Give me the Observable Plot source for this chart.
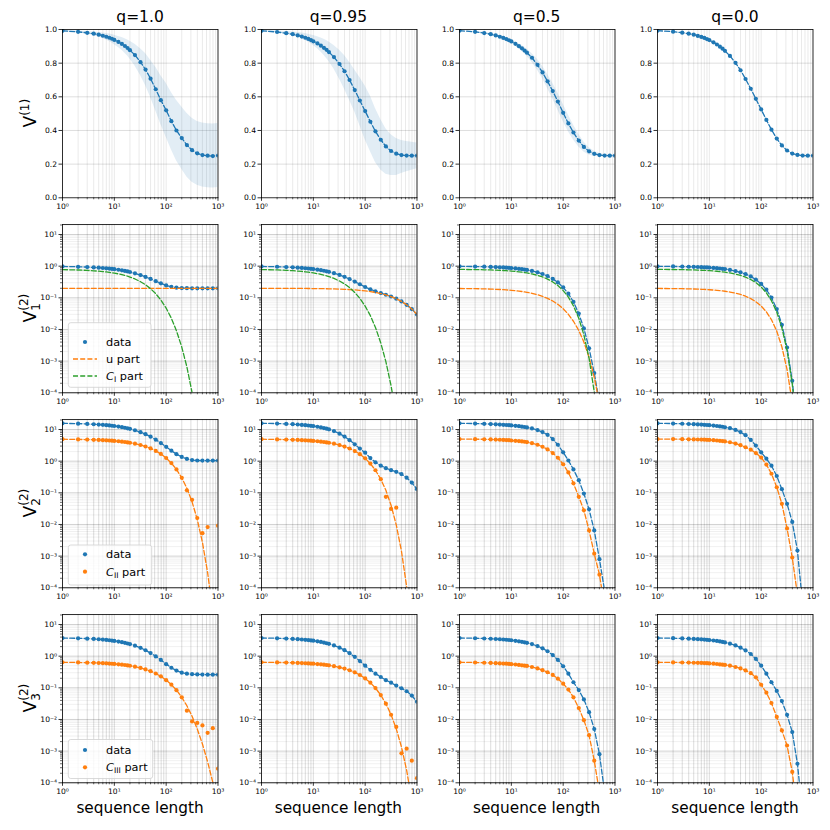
<!DOCTYPE html>
<html><head><meta charset="utf-8">
<script src="https://cdn.jsdelivr.net/npm/d3@7"></script>
<script src="https://cdn.jsdelivr.net/npm/@observablehq/plot@0.6"></script>
<style>
body{margin:0;background:#fff;}
#fig{position:relative;width:830px;height:830px;font-family:"DejaVu Sans",sans-serif;overflow:hidden;}
#fig svg{position:absolute;overflow:visible;}
</style></head><body><div id="fig"></div>
<script>
// ---------- data ----------
const m = [1,2,3,4,5,6,7,8,9,10,12,14,16,18,20,25,32,40,50,63,79,100,126,158,200,251,316,398,501,631,794,1000];
const titles = ["q=1.0","q=0.95","q=0.5","q=0.0"];

// Row 1: V^(1) mean and band
const v1_q10 = [.992,.986,.980,.975,.969,.963,.957,.951,.945,.938,.926,.914,.902,.890,.877,.848,.806,.762,.708,.645,.580,.520,.455,.400,.355,.313,.283,.264,.254,.250,.248,.251];
const v1_q10_hi = [.995,.991,.988,.985,.982,.979,.976,.973,.970,.966,.959,.952,.945,.938,.930,.913,.886,.857,.818,.775,.725,.680,.625,.580,.540,.503,.473,.454,.444,.440,.438,.441];
const v1_q10_lo = [.989,.981,.972,.965,.956,.947,.938,.929,.920,.910,.893,.876,.859,.842,.824,.783,.726,.667,.598,.515,.435,.360,.285,.220,.170,.123,.093,.074,.064,.060,.058,.061];
const v1_q095 = [.992,.985,.978,.972,.965,.958,.951,.944,.937,.930,.917,.904,.891,.879,.866,.836,.795,.752,.700,.640,.578,.515,.452,.395,.345,.305,.278,.262,.254,.251,.250,.250];
const v1_q095_hi = [.995,.991,.988,.985,.982,.979,.976,.972,.968,.964,.957,.950,.942,.934,.926,.905,.877,.845,.805,.760,.715,.665,.605,.530,.465,.410,.375,.352,.340,.335,.330,.325];
const v1_q095_lo = [.989,.981,.972,.964,.955,.945,.935,.925,.915,.905,.885,.866,.847,.828,.810,.765,.705,.645,.580,.510,.430,.345,.275,.210,.165,.140,.132,.133,.145,.155,.163,.172];
const v1_q05 = [.993,.986,.979,.972,.965,.957,.950,.943,.936,.929,.915,.901,.888,.875,.862,.832,.790,.745,.692,.634,.572,.505,.442,.388,.340,.302,.276,.261,.254,.251,.250,.250];
const v1_q05_hi = [.994,.989,.983,.977,.971,.964,.958,.952,.946,.940,.928,.916,.905,.894,.883,.858,.822,.782,.734,.681,.622,.556,.492,.433,.378,.332,.298,.276,.264,.258,.256,.255];
const v1_q05_lo = [.992,.983,.975,.967,.959,.950,.942,.934,.926,.918,.902,.886,.871,.856,.841,.806,.758,.708,.650,.587,.522,.454,.392,.343,.302,.272,.254,.246,.244,.244,.244,.245];
const v1_q00 = [.993,.987,.981,.975,.969,.962,.956,.950,.943,.937,.924,.911,.898,.886,.873,.843,.802,.758,.706,.648,.588,.525,.463,.405,.352,.311,.281,.263,.255,.251,.250,.250];
const v1_q00_hi = [.994,.988,.982,.977,.971,.965,.959,.953,.947,.941,.929,.916,.904,.892,.879,.849,.808,.764,.712,.654,.594,.531,.469,.410,.356,.314,.283,.265,.256,.252,.251,.251];
const v1_q00_lo = [.992,.986,.980,.973,.967,.959,.953,.947,.939,.933,.919,.906,.892,.880,.867,.837,.796,.752,.700,.642,.582,.519,.457,.400,.348,.308,.279,.261,.254,.250,.249,.249];

// Row 2: V1^(2) data, u part, C_I part
const v21_q10 = [.978,.956,.935,.914,.894,.875,.856,.838,.820,.803,.770,.738,.709,.681,.654,.594,.523,.458,.394,.335,.286,.247,.223,.209,.203,.201,.200,.200,.200,.200,.200,.200];
const u21_q10 = [.2,.2,.2,.2,.2,.2,.2,.2,.2,.2,.2,.2,.2,.2,.2,.2,.2,.2,.2,.2,.2,.2,.2,.2,.2,.2,.2,.2,.2,.2,.2,.2];
const c21_q10 = [.778,.756,.735,.714,.694,.675,.656,.638,.620,.603,.570,.538,.509,.481,.454,.394,.323,.258,.194,.135,.0855,.0472,.0226,.00907,.00278,6.6e-4,1.02e-4,1.02e-5,5.5e-7,1.4e-8,1.4e-10,4e-13];
const v21_q095 = [.979,.957,.937,.917,.898,.879,.860,.843,.826,.808,.776,.745,.715,.687,.661,.600,.527,.459,.391,.325,.268,.220,.185,.160,.141,.125,.110,.0939,.0772,.0603,.0442,.0299];
const u21_q095 = [.1996,.1992,.1989,.1985,.1981,.1977,.1974,.1970,.1966,.1962,.1955,.1948,.1940,.1933,.1925,.1907,.1882,.1854,.1819,.1774,.1721,.1654,.1574,.1481,.1368,.1241,.1097,.0939,.0772,.0603,.0442,.0299];
const c21_q095 = [.779,.758,.738,.719,.700,.681,.663,.646,.629,.612,.580,.550,.521,.494,.468,.409,.339,.274,.209,.148,.0963,.0549,.0273,.0116,.00376,9.6e-4,1.67e-4,1.86e-5,1.2e-6,3.7e-8,4.7e-10,1.8e-12];
const v21_q05 = [.9866,.9734,.9603,.9473,.9346,.9220,.9093,.8970,.8847,.8726,.8487,.8254,.8026,.7803,.7585,.7060,.6378,.5664,.4866,.3971,.3063,.2149,.1351,.0740,.0319,.0108,.00255,4.2e-4,4.9e-5,3.7e-6,1.2e-7,1.2e-9];
const u21_q05 = [.1971,.1943,.1915,.1887,.1860,.1834,.1807,.1781,.1755,.1730,.1680,.1632,.1585,.1540,.1495,.1390,.1254,.1114,.0960,.0791,.0621,.0451,.0301,.0182,.00928,.0040,.00133,3.1e-4,4.6e-5,3.7e-6,1.2e-7,1.2e-9];
const c21_q05 = [.7895,.7791,.7688,.7586,.7486,.7386,.7286,.7189,.7092,.6996,.6807,.6622,.6441,.6263,.6090,.5670,.5124,.4550,.3906,.3180,.2442,.1698,.1050,.0558,.0226,.00677,.00122,1.06e-4,3.2e-6,1.8e-8,1e-11,1.2e-16];
const v21_q00 = [.9899,.9797,.9697,.9596,.9496,.9397,.9299,.9201,.9103,.9006,.8814,.8623,.8436,.8251,.8067,.7619,.7019,.6369,.5613,.4725,.3775,.2753,.1802,.1017,.0442,.0141,.00269,2.39e-4,6.9e-6,3.4e-8,1.2e-11,7e-17];
const u21_q00 = [.1980,.1959,.1939,.1919,.1899,.1879,.1860,.1840,.1821,.1801,.1763,.1725,.1687,.1650,.1613,.1524,.1404,.1274,.1123,.0945,.0755,.0551,.0360,.0203,.00884,.00282,5.4e-4,4.8e-5,1.4e-6,6.8e-9,2.4e-12,1.4e-17];
const c21_q00 = [.7919,.7838,.7758,.7677,.7597,.7518,.7439,.7361,.7282,.7205,.7051,.6898,.6749,.6601,.6454,.6095,.5615,.5095,.4490,.3780,.3020,.2202,.1442,.0814,.0354,.01128,.00215,1.91e-4,5.5e-6,2.7e-8,9.6e-12,5.6e-17];

// Row 3: V2^(2) data, C_II part (points and fit)
const v22_q10 = [15.65,15.31,14.98,14.66,14.35,14.04,13.74,13.45,13.16,12.89,12.35,11.85,11.36,10.91,10.47,9.47,8.25,7.10,5.93,4.77,3.74,2.84,2.15,1.66,1.36,1.18,1.08,1.05,1.04,1.04,1.04,1.04];
const c22fit_q10 = [4.933,4.867,4.802,4.737,4.673,4.611,4.549,4.487,4.427,4.368,4.251,4.137,4.026,3.918,3.813,3.561,3.236,2.900,2.527,2.111,1.690,1.258,.870,.550,.298,.140,.0520,.01445,.00272,3.0e-4,1.65e-5,3.4e-7];
const c22pts_q10 = [4.933,4.867,4.802,4.737,4.673,4.611,4.549,4.487,4.427,4.368,4.251,4.137,4.026,3.918,3.813,3.561,3.236,2.900,2.527,2.111,1.690,1.258,.870,.550,.298,.12,.06,.016,.0053,.0083,null,.0092];
const v22_q095 = [15.7,15.4,15.0,14.7,14.4,14.0,13.7,13.4,13.1,12.8,12.2,11.6,11.1,10.6,10.1,8.9,7.4,6.0,4.6,3.4,2.5,1.85,1.25,.92,.72,.60,.52,.46,.39,.30,.21,.13];
const c22fit_q095 = [4.933,4.867,4.802,4.737,4.673,4.611,4.549,4.487,4.427,4.368,4.251,4.137,4.026,3.918,3.813,3.556,3.228,2.888,2.511,2.090,1.663,1.227,.837,.517,.270,.120,.0405,.0097,.00145,1.1e-4,3.5e-6,2.8e-8];
const c22pts_q095 = [4.933,4.867,4.802,4.737,4.673,4.611,4.549,4.487,4.427,4.368,4.251,4.137,4.026,3.918,3.813,3.556,3.228,2.888,2.511,2.090,1.663,1.227,.837,.517,.270,.075,.031,.034,null,null,null,null];
const v22_q05 = [15.7,15.4,15.1,14.8,14.6,14.3,14.1,13.9,13.7,13.5,13.1,12.7,12.3,12.0,11.6,10.8,9.6,8.3,6.8,5.0,3.3,1.9,1.05,.55,.25,.095,.03,.0065,8e-4,8e-5,3e-6,5e-8];
const c22_q05 = [5.0,4.95,4.9,4.85,4.8,4.75,4.7,4.65,4.6,4.5,4.4,4.3,4.2,4.1,4.0,3.7,3.3,2.85,2.35,1.8,1.28,.8,.44,.2,.075,.028,.0065,.0012,2.6e-4,2.5e-5,1e-6,1e-8];
const v22_q00 = [15.7,15.4,15.2,14.9,14.7,14.5,14.3,14.1,13.9,13.7,13.3,12.9,12.5,12.2,11.8,11.0,9.7,8.3,6.6,4.7,3.1,1.9,1.2,.72,.34,.13,.045,.012,1.5e-3,3e-5,1e-7,1e-10];
const c22_q00 = [5.0,4.97,4.94,4.9,4.87,4.84,4.8,4.77,4.73,4.7,4.6,4.5,4.4,4.3,4.2,3.95,3.6,3.2,2.75,2.3,1.8,1.3,.78,.40,.15,.045,.0075,9e-4,6e-5,1.5e-6,1e-8,1e-11];

// Row 4: V3^(2) data, C_III part (points and fit)
const v23_q10 = [3.74,3.66,3.58,3.50,3.42,3.34,3.26,3.18,3.10,3.03,2.89,2.76,2.63,2.51,2.40,2.14,1.83,1.54,1.25,.98,.76,.56,.43,.35,.30,.28,.27,.265,.262,.26,.26,.26];
const c23fit_q10 = [.641,.633,.624,.616,.608,.600,.592,.584,.576,.569,.554,.539,.525,.511,.498,.466,.425,.382,.335,.283,.230,.175,.126,.0843,.0502,.0272,.0127,.00504,.00168,4.6e-4,1.03e-4,2e-5];
const c23pts_q10 = [.641,.633,.624,.616,.608,.600,.592,.584,.576,.569,.554,.539,.525,.511,.498,.466,.425,.382,.335,.283,.230,.175,.126,.0843,.0502,.019,.0087,.0078,.0065,.0038,.0053,2.8e-4];
const v23_q095 = [3.75,3.67,3.59,3.51,3.44,3.36,3.29,3.22,3.15,3.08,2.94,2.81,2.68,2.56,2.45,2.18,1.86,1.55,1.24,.95,.70,.50,.37,.28,.22,.175,.145,.118,.097,.078,.057,.036];
const c23fit_q095 = [.642,.635,.627,.620,.613,.606,.598,.591,.584,.578,.564,.551,.538,.525,.513,.484,.445,.405,.359,.308,.254,.198,.145,.0983,.0590,.0316,.01413,.00506,.00137,2.5e-4,2.7e-5,1.8e-6];
const c23pts_q095 = [.642,.635,.627,.620,.613,.606,.598,.591,.584,.578,.564,.551,.538,.525,.513,.484,.445,.405,.359,.308,.254,.198,.145,.0983,.0590,.0316,.01413,.0058,8.5e-4,1.2e-3,5e-4,1.4e-4];
const v23_q05 = [3.75,3.68,3.61,3.55,3.48,3.42,3.36,3.30,3.24,3.18,3.06,2.95,2.84,2.74,2.64,2.40,2.08,1.77,1.43,1.08,.76,.48,.28,.15,.085,.043,.017,.005,8e-4,5e-5,1.5e-6,1e-8];
const c23_q05 = [.64,.63,.62,.61,.60,.59,.585,.58,.57,.56,.545,.53,.515,.50,.49,.455,.41,.36,.31,.255,.195,.135,.088,.05,.023,.0095,.0032,5e-4,5e-5,2e-6,1e-8,1e-11];
const v23_q00 = [3.75,3.69,3.63,3.57,3.51,3.45,3.40,3.34,3.29,3.23,3.12,3.02,2.92,2.82,2.72,2.48,2.18,1.86,1.52,1.17,.82,.50,.28,.15,.08,.038,.014,.004,4e-4,1e-5,1e-7,1e-10];
const c23_q00 = [.64,.635,.63,.625,.62,.615,.61,.605,.60,.59,.58,.565,.55,.54,.53,.50,.455,.41,.355,.29,.215,.125,.07,.033,.012,.0045,.0015,2.2e-4,1e-5,1e-7,1e-10,1e-13];

// ---------- layout / style ----------
const BLUE="#1f77b4", ORANGE="#ff7f0e", GREEN="#2ca02c";
const W=155.5, H=168.3, ML=40, MR=10, MT=10, MB=26;
const colLeft=[62.3,260.6,458.9,657.2];
const rowTop=[29,224,419,614];
const DASH="5,2.2";
const fig=document.getElementById("fig");

const supMap={"-":"⁻","0":"⁰","1":"¹","2":"²","3":"³","4":"⁴","5":"⁵"};
const pow10=v=>"10"+String(Math.round(Math.log10(v))).split("").map(ch=>supMap[ch]).join("");
const xMajor=[1,10,100,1000];
const xMinor=[]; for(let k=0;k<3;k++) for(let j=2;j<10;j++) xMinor.push(j*Math.pow(10,k));
const yMajorLog=[1e-4,1e-3,1e-2,1e-1,1,10];
const yMinorLog=[]; for(let k=-4;k<=1;k++) for(let j=2;j<10;j++){const v=j*Math.pow(10,k); if(v<=20.7) yMinorLog.push(v);}
const yDomLog=[1e-4,20.7];

const tbl=cols=>m.map((mm,i)=>{const o={m:mm}; for(const k in cols) o[k]=cols[k][i]; return o;});

function xAxes(){
  return [
    Plot.axisX({ticks:xMajor,tickFormat:pow10,tickSize:3.5,tickPadding:2,label:null,strokeWidth:0.8}),
    Plot.axisX({ticks:xMinor,tickFormat:()=>"",tickSize:2,label:null,strokeWidth:0.6})
  ];
}
function logGrid(){
  return [
    Plot.ruleX([...xMinor,...xMajor],{stroke:"#000",strokeOpacity:0.28,strokeWidth:0.5}),
    Plot.ruleY(yMinorLog,{stroke:"#000",strokeOpacity:0.1,strokeWidth:0.6}),
    Plot.ruleY(yMajorLog,{stroke:"#000",strokeOpacity:0.3,strokeWidth:0.6})
  ];
}
function logYAxes(){
  return [
    Plot.axisY({ticks:yMajorLog,tickFormat:pow10,tickSize:3.5,tickPadding:2,label:null,strokeWidth:0.8}),
    Plot.axisY({ticks:yMinorLog,tickFormat:()=>"",tickSize:2,label:null,strokeWidth:0.6})
  ];
}
function place(r,c,yOpts,marks){
  const svg=Plot.plot({
    width:ML+W+MR,height:MT+H+MB,
    marginLeft:ML,marginRight:MR,marginTop:MT,marginBottom:MB,
    style:{fontFamily:"DejaVu Sans, sans-serif",fontSize:"7.6px",background:"transparent",overflow:"visible",color:"#000"},
    x:{type:"log",domain:[1,1000]},
    y:yOpts,
    marks:[...marks,Plot.frame({stroke:"#000",strokeWidth:0.8})]
  });
  svg.style.position="absolute";
  svg.style.left=(colLeft[c]-ML)+"px";
  svg.style.top=(rowTop[r]-MT)+"px";
  fig.appendChild(svg);
}
const dashLine=(t,y,color)=>Plot.line(t,{x:"m",y,stroke:color,strokeDasharray:DASH,strokeWidth:1.3,clip:true});
const dots=(t,y,color)=>Plot.dot(t,{x:"m",y,r:2.1,fill:color,clip:true});

// Row 1
const r1=[[v1_q10,v1_q10_lo,v1_q10_hi],[v1_q095,v1_q095_lo,v1_q095_hi],[v1_q05,v1_q05_lo,v1_q05_hi],[v1_q00,v1_q00_lo,v1_q00_hi]];
r1.forEach(([v,lo,hi],c)=>{
  const t=tbl({v,lo,hi});
  place(0,c,{type:"linear",domain:[0,1]},[
    Plot.ruleX([...xMinor,...xMajor],{stroke:"#000",strokeOpacity:0.15,strokeWidth:0.6}),
    Plot.ruleY([0.2,0.4,0.6,0.8],{stroke:"#000",strokeOpacity:0.22,strokeWidth:0.6}),
    Plot.areaY(t,{x:"m",y1:"lo",y2:"hi",fill:BLUE,fillOpacity:0.13,clip:true}),
    dashLine(t,"v",BLUE),
    dots(t,"v",BLUE),
    ...xAxes(),
    Plot.axisY({ticks:[0,0.2,0.4,0.6,0.8,1],tickFormat:d3.format(".1f"),tickSize:3.5,tickPadding:2,label:null,strokeWidth:0.8})
  ]);
});

// Row 2
const r2=[[v21_q10,u21_q10,c21_q10],[v21_q095,u21_q095,c21_q095],[v21_q05,u21_q05,c21_q05],[v21_q00,u21_q00,c21_q00]];
r2.forEach(([d,u,ci],c)=>{
  const t=tbl({d,u,ci});
  place(1,c,{type:"log",domain:yDomLog},[
    ...logGrid(),
    dots(t,"d",BLUE),
    dashLine(t,"d",BLUE),
    dashLine(t,"u",ORANGE),
    dashLine(t,"ci",GREEN),
    ...xAxes(),...logYAxes()
  ]);
});

// Rows 3 and 4
const r3=[[v22_q10,c22pts_q10,c22fit_q10],[v22_q095,c22pts_q095,c22fit_q095],[v22_q05,c22_q05,c22_q05],[v22_q00,c22_q00,c22_q00]];
const r4=[[v23_q10,c23pts_q10,c23fit_q10],[v23_q095,c23pts_q095,c23fit_q095],[v23_q05,c23_q05,c23_q05],[v23_q00,c23_q00,c23_q00]];
[r3,r4].forEach((rows,ri)=>{
  rows.forEach(([d,p,f],c)=>{
    const t=tbl({d,p,f});
    place(2+ri,c,{type:"log",domain:yDomLog},[
      ...logGrid(),
      dots(t,"d",BLUE),
      dashLine(t,"d",BLUE),
      dots(t.filter(o=>o.p!=null),"p",ORANGE),
      dashLine(t,"f",ORANGE),
      ...xAxes(),...logYAxes()
    ]);
  });
});

// ---------- overlay text: titles, labels, legends ----------
const ov=d3.select(fig).append("svg").attr("width",830).attr("height",830)
  .style("left","0px").style("top","0px").style("font-family","DejaVu Sans, sans-serif");

titles.forEach((s,c)=>{
  ov.append("text").attr("x",colLeft[c]+W/2).attr("y",21.5).attr("text-anchor","middle")
    .attr("font-size",15.5).text(s);
  ov.append("text").attr("x",colLeft[c]+W/2).attr("y",812.5).attr("text-anchor","middle")
    .attr("font-size",15.3).text("sequence length");
});

const ylab=[{sub:null,sup:"(1)"},{sub:"1",sup:"(2)"},{sub:"2",sup:"(2)"},{sub:"3",sup:"(2)"}];
ylab.forEach((L,r)=>{
  const t=ov.append("text").attr("transform",`translate(36,${rowTop[r]+H/2}) rotate(-90)`)
    .attr("text-anchor","middle").attr("font-size",17);
  t.append("tspan").text("V");
  if(L.sub){
    t.append("tspan").attr("font-size",12).attr("dy",4).text(L.sub);
    t.append("tspan").attr("font-size",12).attr("dx",-7.6).attr("dy",-12.5).text(L.sup);
  } else {
    t.append("tspan").attr("font-size",12).attr("dy",-7).text(L.sup);
  }
});

function legend(bx,by,bw,bh,entries){
  const g=ov.append("g");
  g.append("rect").attr("x",bx).attr("y",by).attr("width",bw).attr("height",bh).attr("rx",2.5)
    .attr("fill","#fff").attr("fill-opacity",0.8).attr("stroke","#d0d0d0").attr("stroke-width",0.8);
  entries.forEach(e=>{
    if(e.kind==="dot") g.append("circle").attr("cx",bx+16.7).attr("cy",e.y).attr("r",2.1).attr("fill",e.color);
    else g.append("line").attr("x1",bx+4.7).attr("x2",bx+28.7).attr("y1",e.y).attr("y2",e.y)
      .attr("stroke",e.color).attr("stroke-width",1.3).attr("stroke-dasharray",DASH);
    const t=g.append("text").attr("x",bx+37.7).attr("y",e.y+4).attr("font-size",11.3);
    if(e.sub){
      t.append("tspan").attr("font-style","italic").text("C");
      t.append("tspan").attr("font-size",7.8).attr("dy",2).text(e.sub);
      t.append("tspan").attr("dy",-2).text(" part");
    } else t.text(e.label);
  });
}
legend(68.3,322.7,82.7,64.6,[
  {kind:"dot",color:BLUE,y:342,label:"data"},
  {kind:"line",color:ORANGE,y:359,label:"u part"},
  {kind:"line",color:GREEN,y:376,sub:"I"}
]);
legend(68.3,545,83.4,40,[
  {kind:"dot",color:BLUE,y:554.3,label:"data"},
  {kind:"dot",color:ORANGE,y:571.7,sub:"II"}
]);
legend(68.3,739.5,84.4,39,[
  {kind:"dot",color:BLUE,y:750,label:"data"},
  {kind:"dot",color:ORANGE,y:767.3,sub:"III"}
]);
</script></body></html>
